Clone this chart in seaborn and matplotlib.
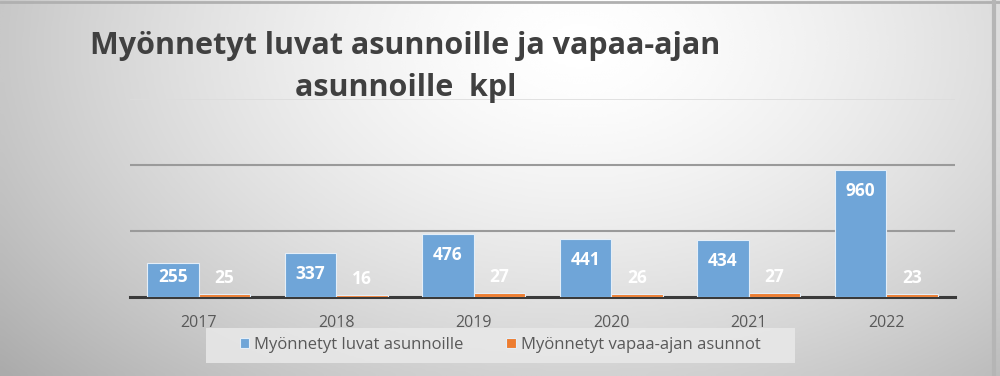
import numpy as np
import pandas as pd
import seaborn as sns
import matplotlib.pyplot as plt
from matplotlib.patches import Rectangle

# data
years = ['2017', '2018', '2019', '2020', '2021', '2022']
asunnot = [255, 337, 476, 441, 434, 960]
vapaa_ajan = [25, 16, 27, 26, 27, 23]
series_names = ['Myönnetyt luvat asunnoille', 'Myönnetyt vapaa-ajan asunnot']

df = pd.DataFrame({
    'Vuosi': years * 2,
    'Arvo': asunnot + vapaa_ajan,
    'Sarja': [series_names[0]] * len(years) + [series_names[1]] * len(years)
})

sns.set_theme(style='white')
plt.rcParams['font.family'] = ['Open Sans', 'DejaVu Sans']

fig = plt.figure(figsize=(10, 3.76), dpi=100)

# gray radial-ish background
bg = fig.add_axes([0, 0, 1, 1])
xx, yy = np.meshgrid(np.linspace(0, 1, 400), np.linspace(0, 1, 150))
d = np.sqrt(((xx - 0.58) / 0.72) ** 2 + ((yy - 0.12) / 1.25) ** 2)
shade = 1 - 0.3 * np.clip(d, 0, 1.1) ** 1.5
bg.imshow(shade, cmap='gray', vmin=0, vmax=1, aspect='auto',
          extent=[0, 1, 1, 0], interpolation='bicubic')
bg.set_xlim(0, 1)
bg.set_ylim(1, 0)
bg.axis('off')
bg.plot([0, 1], [0.004, 0.004], color='#b0b0b0', lw=2)
bg.plot([0.994, 0.994], [0, 1], color='#b5b5b5', lw=3)
# legend background box
bg.add_patch(Rectangle((0.206, 328 / 376), 0.589, 35 / 376,
                       facecolor='#e9e9e9', edgecolor='none', alpha=0.85))

ax = fig.add_axes([0.13, 0.2101, 0.825, 0.5266])
ax.patch.set_alpha(0)

palette = {series_names[0]: '#6fa5d8', series_names[1]: '#ed7d31'}
sns.barplot(data=df, x='Vuosi', y='Arvo', hue='Sarja', palette=palette,
            width=0.75, saturation=1, edgecolor='#e4eef8', linewidth=0.8,
            ax=ax, legend=True, zorder=3)

ax.set_ylim(0, 1500)
ax.set_yticks([500, 1000])
ax.yaxis.grid(True, color='#9a9a9a', lw=1.5)
ax.axhline(1500, color='#dcdcdc', lw=1.2, zorder=0)
ax.set_axisbelow(True)
ax.tick_params(axis='y', left=False, labelleft=False)
ax.tick_params(axis='x', bottom=False, labelsize=11.5, colors='#595959', pad=7)
for s in ['top', 'right', 'left']:
    ax.spines[s].set_visible(False)
ax.spines['bottom'].set_color('#3a3a3a')
ax.spines['bottom'].set_linewidth(2.2)
ax.spines['bottom'].set_zorder(2)
ax.set_xlabel('')
ax.set_ylabel('')

# data labels
for i, cont in enumerate(ax.containers):
    for bar, val in zip(cont, [asunnot, vapaa_ajan][i]):
        x = bar.get_x() + bar.get_width() / 2
        if i == 0:
            off = -21 if val > 300 else -14
        else:
            off = 16
        ax.annotate(str(val), (x, val), xytext=(0, off), textcoords='offset pixels',
                    ha='center', va='center', color='white', fontsize=12.5,
                    fontweight='bold', zorder=4)

leg = ax.legend(loc='center', bbox_to_anchor=(0.4485, -0.242), ncol=2,
                frameon=False, fontsize=12, handlelength=0.55, handleheight=0.55,
                handletextpad=0.3, columnspacing=2.6)
for t in leg.get_texts():
    t.set_color('#595959')

fig.text(0.405, 0.878, 'Myönnetyt luvat asunnoille ja vapaa-ajan', ha='center',
         va='center', fontsize=22, fontweight='bold', color='#404040')
fig.text(0.406, 0.765, 'asunnoille  kpl', ha='center', va='center',
         fontsize=22, fontweight='bold', color='#404040')

fig.savefig('out.png', dpi=100)
